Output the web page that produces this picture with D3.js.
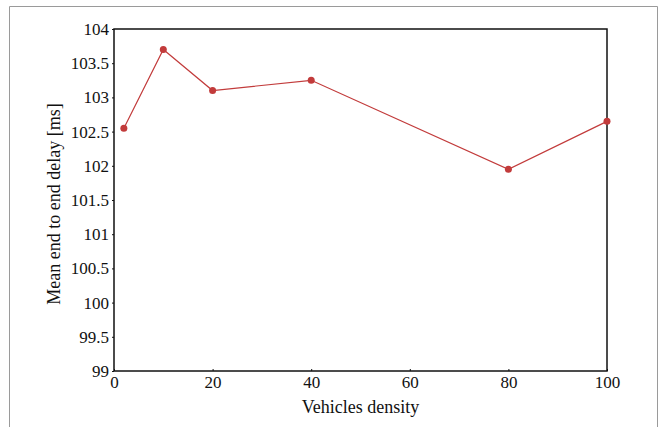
<!DOCTYPE html>
<html>
<head>
<meta charset="utf-8">
<script src="https://cdn.jsdelivr.net/npm/d3@7"></script>
<style>
  html, body { margin: 0; padding: 0; background: #fff; }
  svg { display: block; }
  text { font-family: "Liberation Serif", "Times New Roman", serif; fill: #111; }
</style>
</head>
<body>
<script>
// Vehicle density vs. mean end-to-end delay
const densities = [2, 10, 20, 40, 80, 100];
const meanDelay = [102.55, 103.7, 103.1, 103.25, 101.95, 102.65];
const xTicks = [0, 20, 40, 60, 80, 100];
const yTicks = [99, 99.5, 100, 100.5, 101, 101.5, 102, 102.5, 103, 103.5, 104];

const W = 665, H = 427;
const plot = { left: 114, top: 29, right: 607, bottom: 371 };
const red = "#c23b3b";

const svg = d3.select("body").append("svg").attr("width", W).attr("height", H);

// outer frame
svg.append("path")
  .attr("d", `M9.5,${H} V6.5 H657.5 V${H}`)
  .attr("fill", "none").attr("stroke", "#9a9a9a").attr("stroke-width", 1);

const x = d3.scaleLinear().domain([0, 100]).range([plot.left, plot.right]);
const y = d3.scaleLinear().domain([99, 104]).range([plot.bottom, plot.top]);

// x axis
const xAxis = svg.append("g")
  .attr("transform", `translate(0,${plot.bottom})`)
  .call(d3.axisBottom(x).tickValues(xTicks).tickFormat(d3.format("d")).tickSizeInner(-2).tickSizeOuter(0).tickPadding(5));
xAxis.select(".domain").remove();
xAxis.selectAll("text").attr("font-size", 17).attr("dy", "0.71em").attr("fill", "#111");
xAxis.selectAll("line").attr("stroke", "#111");

// y axis
const yAxis = svg.append("g")
  .attr("transform", `translate(${plot.left},0)`)
  .call(d3.axisLeft(y).tickValues(yTicks).tickFormat(d => String(d)).tickSizeInner(2).tickSizeOuter(0).tickPadding(3));
yAxis.select(".domain").remove();
yAxis.selectAll("text").attr("font-size", 17).attr("fill", "#111");
yAxis.selectAll("line").attr("stroke", "#111");

// plot box
svg.append("rect")
  .attr("x", plot.left).attr("y", plot.top)
  .attr("width", plot.right - plot.left).attr("height", plot.bottom - plot.top)
  .attr("fill", "none").attr("stroke", "#111").attr("stroke-width", 1.5);

// axis titles
svg.append("text")
  .attr("x", (plot.left + plot.right) / 2).attr("y", 413)
  .attr("text-anchor", "middle").attr("font-size", 18)
  .text("Vehicles density");

svg.append("text")
  .attr("transform", `translate(60,204) rotate(-90)`)
  .attr("text-anchor", "middle").attr("font-size", 18)
  .text("Mean end to end delay [ms]");

// series
const pts = densities.map((d, i) => [d, meanDelay[i]]);
svg.append("path")
  .datum(pts)
  .attr("fill", "none").attr("stroke", red).attr("stroke-width", 1.2)
  .attr("d", d3.line().x(d => x(d[0])).y(d => y(d[1])));

svg.selectAll("circle.pt")
  .data(pts).enter().append("circle")
  .attr("class", "pt")
  .attr("cx", d => x(d[0])).attr("cy", d => y(d[1]))
  .attr("r", 3.5).attr("fill", red);
</script>
</body>
</html>
